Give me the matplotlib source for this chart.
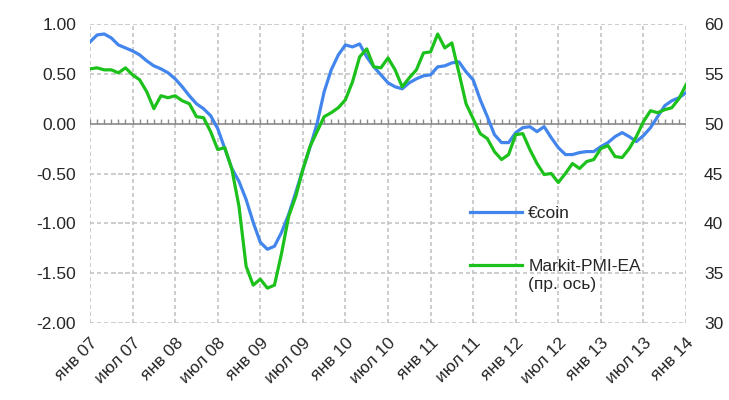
import numpy as np
import matplotlib
matplotlib.use("Agg")
import matplotlib.pyplot as plt

plt.rcParams['font.family'] = ['Liberation Sans', 'DejaVu Sans']

# месяцы с янв 07 по янв 14
months = np.arange(85)
tick_labels = ['янв 07', 'июл 07', 'янв 08', 'июл 08', 'янв 09', 'июл 09', 'янв 10', 'июл 10',
               'янв 11', 'июл 11', 'янв 12', 'июл 12', 'янв 13', 'июл 13', 'янв 14']

# €coin (левая ось)
ecoin = [0.82, 0.89, 0.90, 0.86, 0.79, 0.76, 0.73, 0.69, 0.63, 0.58,
         0.55, 0.51, 0.45, 0.37, 0.28, 0.20, 0.15, 0.08, -0.05, -0.25,
         -0.45, -0.58, -0.76, -0.99, -1.19, -1.26, -1.23, -1.09, -0.91, -0.69,
         -0.46, -0.24, 0.00, 0.32, 0.54, 0.69, 0.79, 0.77, 0.80, 0.67,
         0.57, 0.49, 0.41, 0.37, 0.35, 0.41, 0.45, 0.48, 0.49, 0.57,
         0.58, 0.61, 0.62, 0.52, 0.44, 0.24, 0.07, -0.11, -0.19, -0.19,
         -0.09, -0.04, -0.03, -0.08, -0.03, -0.14, -0.24, -0.31, -0.31, -0.29,
         -0.28, -0.28, -0.23, -0.19, -0.13, -0.09, -0.13, -0.18, -0.12, -0.04,
         0.07, 0.18, 0.23, 0.26, 0.31]

# Markit PMI еврозоны (правая ось)
pmi = [55.5, 55.6, 55.4, 55.4, 55.1, 55.6, 54.9, 54.4, 53.2, 51.5,
       52.8, 52.6, 52.8, 52.3, 52.0, 50.7, 50.6, 49.2, 47.4, 47.6,
       45.4, 41.7, 35.7, 33.8, 34.4, 33.5, 33.8, 37.0, 40.7, 42.7,
       45.4, 47.7, 49.2, 50.7, 51.1, 51.6, 52.4, 54.2, 56.7, 57.5,
       55.7, 55.6, 56.6, 55.4, 53.7, 54.6, 55.4, 57.1, 57.2, 59.0,
       57.6, 58.1, 55.1, 52.0, 50.5, 49.0, 48.5, 47.2, 46.4, 46.9,
       48.9, 49.0, 47.4, 46.0, 44.9, 45.0, 44.1, 45.0, 46.0, 45.5,
       46.2, 46.4, 47.5, 47.8, 46.7, 46.6, 47.5, 48.7, 50.2, 51.3,
       51.1, 51.4, 51.6, 52.5, 53.9]

blue = '#4285ec'
green = '#1cc11c'
txt = '#262626'
gridc = '#c0c0c0'

fig = plt.figure(figsize=(7.29, 4.0), dpi=100)
ax = fig.add_axes([90 / 729, 1 - 323 / 400, 596 / 729, 299 / 400])
ax2 = ax.twinx()

ax.set_xlim(0, 84)
ax.set_ylim(-2, 1)
ax2.set_ylim(30, 60)

yt = np.arange(-2, 1.01, 0.5)
ax.set_yticks(yt)
ax.set_yticklabels(['%.2f' % v for v in yt])
ax2.set_yticks(np.arange(30, 61, 5))
ax.set_xticks(months[::6])
ax.set_xticklabels(tick_labels, rotation=45, ha='right', rotation_mode='anchor')

# пунктирная сетка из коротких сплошных штрихов
xs = np.arange(0, 84, 1.0)
for v in yt:
    if v != 0:
        ax.hlines(np.full(len(xs), v), xs, np.minimum(xs + 0.6, 84),
                  colors=gridc, lw=1.1, zorder=1.2)
ys = np.arange(-2, 1, 0.07)
for m in months[::6]:
    ax.vlines(np.full(len(ys), m), ys, np.minimum(ys + 0.04, 1),
              colors=gridc, lw=1.1, zorder=1.2)

# нулевая линия с месячными засечками
ax.axhline(0, color='#8a8a8a', lw=1.2, zorder=1.5)
ax.vlines(months, 0, 0.045, color='#8a8a8a', lw=1, zorder=1.5)

ax.plot(months, ecoin, color=blue, lw=2.3, solid_joinstyle='round', label='€coin', zorder=2)
ax2.plot(months, pmi, color=green, lw=2.3, solid_joinstyle='round', label='Markit-PMI-EA')

for a in (ax, ax2):
    for s in a.spines.values():
        s.set_visible(False)
ax.tick_params(axis='y', length=0, pad=10, labelsize=12.5, labelcolor=txt)
ax.tick_params(axis='x', length=0, pad=9, labelsize=12.5, labelcolor=txt)
ax2.tick_params(axis='y', length=0, pad=13, labelsize=12.5, labelcolor=txt)

# легенда
h1, l1 = ax.get_legend_handles_labels()
h2, l2 = ax2.get_legend_handles_labels()
leg = ax2.legend(h1 + h2, l1 + l2, loc='upper left', frameon=False,
                 bbox_to_anchor=(470 / 729, 1 - 206 / 400), bbox_transform=fig.transFigure,
                 fontsize=12.5, labelspacing=2.15, handlelength=3.0, handletextpad=0.35,
                 borderpad=0, borderaxespad=0)
for t in leg.get_texts():
    t.set_color(txt)

fig.canvas.draw()
bb = leg.get_texts()[1].get_window_extent()
fig.text(bb.x0, bb.y0 - 3, '(пр. ось)', transform=None, ha='left', va='top',
         fontsize=12.5, color=txt)

fig.savefig('out.png', dpi=100)
